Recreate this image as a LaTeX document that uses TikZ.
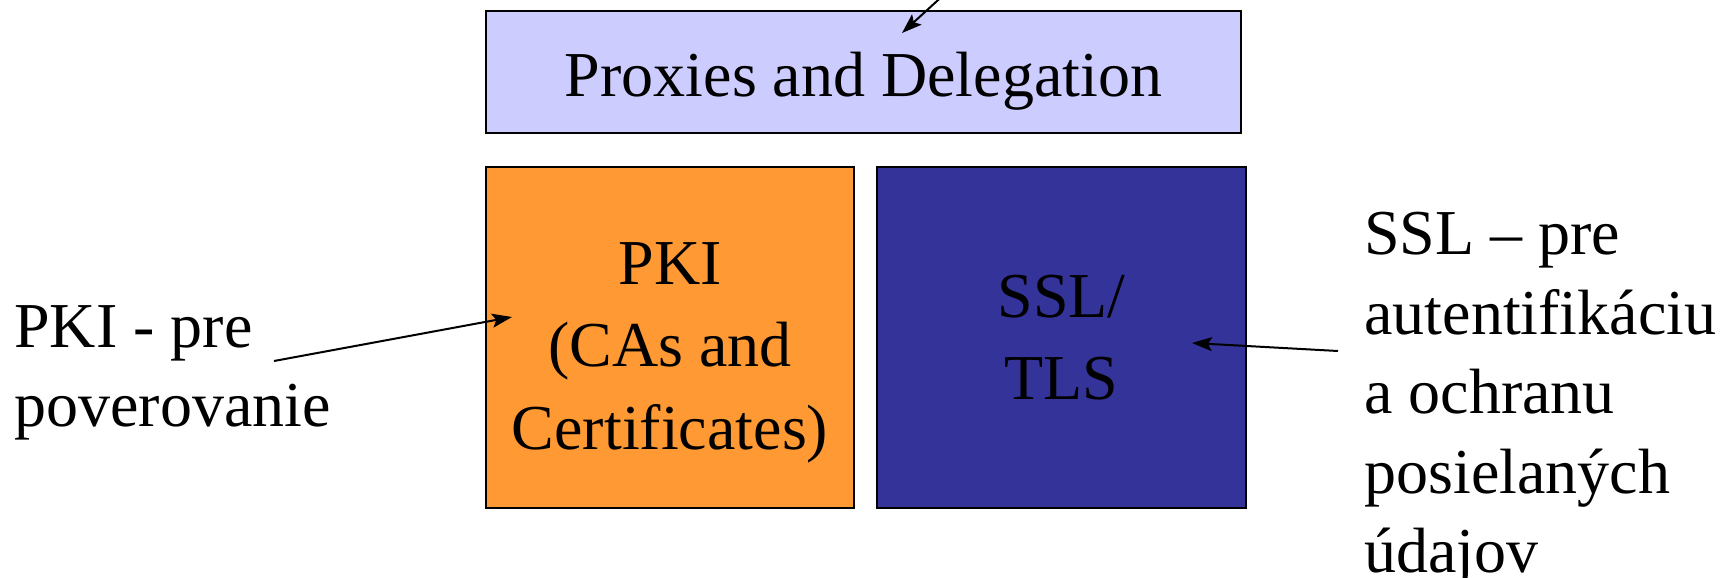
\documentclass[tikz,border=0pt]{standalone}
\usepackage{fontspec}
\setmainfont{Liberation Serif}
\usetikzlibrary{positioning}
\usetikzlibrary{arrows.meta}

\definecolor{proxyfill}{HTML}{CCCCFF}
\definecolor{pkifill}{HTML}{FF9933}
\definecolor{sslfill}{HTML}{333399}

\begin{document}
\begin{tikzpicture}[
  x=0.5pt, y=-0.5pt,
  font=\fontsize{32}{39.75}\selectfont,
  layer/.style={draw, line width=1pt, align=center, inner sep=0pt, outer sep=0pt,
    font=\fontsize{32}{41.25}\selectfont},
  note/.style={align=left, inner sep=0pt, anchor=north west},
  arrow/.style={-{Stealth[length=10pt, width=7pt, inset=2pt]}, line width=1pt}
]
\clip (0,0) rectangle (1720,578);

% Proxies on top
\node[layer, fill=proxyfill, minimum width=377.5pt, minimum height=61pt,
  text height=24pt, text depth=0pt] (proxy)
  at (863.5,72) {Proxies and Delegation};

% PKI and SSL underneath
\node[layer, fill=pkifill, minimum width=184pt, minimum height=170.5pt,
  below=17pt of proxy.south west, anchor=north west] (pki)
  {\rule{0pt}{36pt}PKI\\(CAs and\\Certificates)};
\node[layer, fill=sslfill, minimum width=184.5pt, minimum height=170.5pt,
  right=11.5pt of pki.north east, anchor=north west] (ssl)
  {SSL/\\TLS};

% Notes
\node[note] (pkinote) at (14,305) {PKI - pre\\poverovanie};
\node[note] (sslnote) at (1364,212)
  {SSL -- pre\\autentifikáciu\\a ochranu\\posielaných\\údajov};

\coordinate (topfrom) at (960,-20);
\coordinate (topto) at (902,33);
\coordinate (pkifrom) at (274,361);
\coordinate (pkito) at (512,317);
\coordinate (sslfrom) at (1338,351);
\coordinate (sslto) at (1192,343);

\draw[arrow] (topfrom) -- (topto);
\draw[arrow] (pkifrom) -- (pkito);
\draw[arrow] (sslfrom) -- (sslto);

\end{tikzpicture}
\end{document}
